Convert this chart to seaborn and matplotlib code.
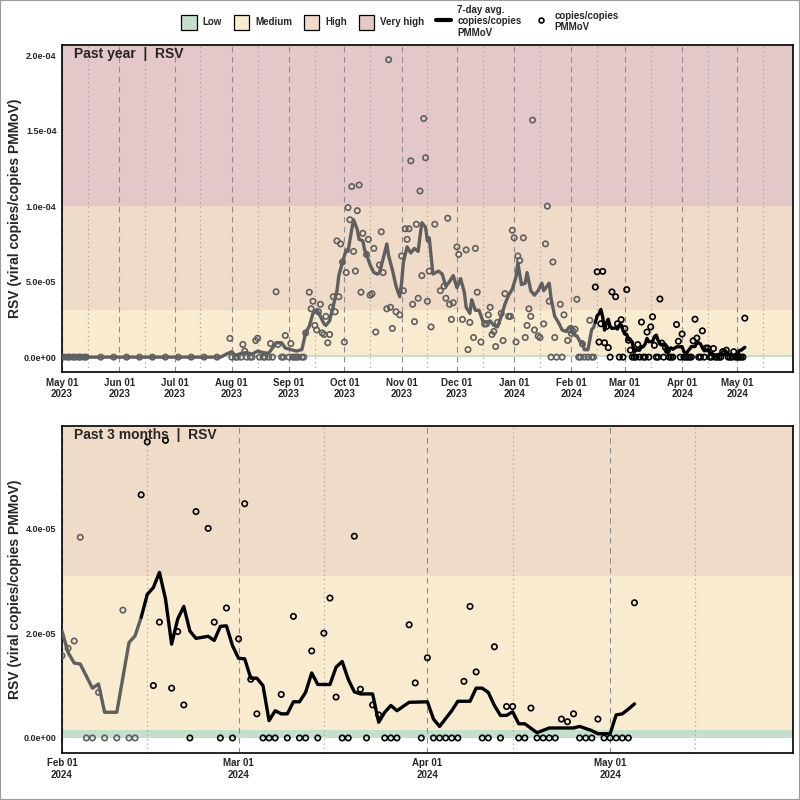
import numpy as np
import pandas as pd
import matplotlib
matplotlib.use("Agg")
import matplotlib.pyplot as plt
import matplotlib.dates as mdates
from matplotlib.patches import Patch, Rectangle
from matplotlib.lines import Line2D
import seaborn as sns

# values are in units of 1e-5 copies/copies PMMoV
UNIT = 1e-5

year_dates = [
    "2023-05-01", "2023-05-02", "2023-05-04", "2023-05-05", "2023-05-07", "2023-05-08",
    "2023-05-10", "2023-05-11", "2023-05-13", "2023-05-14", "2023-05-22", "2023-05-29",
    "2023-06-05", "2023-06-12", "2023-06-19", "2023-06-26", "2023-07-03", "2023-07-10",
    "2023-07-17", "2023-07-24", "2023-07-31", "2023-08-01", "2023-08-03", "2023-08-04",
    "2023-08-06", "2023-08-07", "2023-08-08", "2023-08-09", "2023-08-11", "2023-08-12",
    "2023-08-14", "2023-08-15", "2023-08-16", "2023-08-18", "2023-08-19", "2023-08-21",
    "2023-08-22", "2023-08-23", "2023-08-25", "2023-08-26", "2023-08-28", "2023-08-29",
    "2023-08-30", "2023-09-01", "2023-09-02", "2023-09-03", "2023-09-04", "2023-09-05",
    "2023-09-06", "2023-09-08", "2023-09-09", "2023-09-10", "2023-09-12", "2023-09-13",
    "2023-09-14", "2023-09-15", "2023-09-16", "2023-09-17", "2023-09-18", "2023-09-19",
    "2023-09-20", "2023-09-21", "2023-09-22", "2023-09-23", "2023-09-24", "2023-09-25",
    "2023-09-26", "2023-09-27", "2023-09-28", "2023-09-29", "2023-09-30", "2023-10-01",
    "2023-10-02", "2023-10-03", "2023-10-04", "2023-10-05", "2023-10-06", "2023-10-07",
    "2023-10-08", "2023-10-09", "2023-10-10", "2023-10-11", "2023-10-13", "2023-10-14",
    "2023-10-15", "2023-10-16", "2023-10-17", "2023-10-18", "2023-10-20", "2023-10-21",
    "2023-10-22", "2023-10-24", "2023-10-25", "2023-10-26", "2023-10-27", "2023-10-29",
    "2023-10-31", "2023-11-01", "2023-11-02", "2023-11-03", "2023-11-04", "2023-11-05",
    "2023-11-06", "2023-11-07", "2023-11-08", "2023-11-09", "2023-11-10", "2023-11-11",
    "2023-11-12", "2023-11-13", "2023-11-14", "2023-11-15", "2023-11-16", "2023-11-17",
    "2023-11-19", "2023-11-22", "2023-11-24", "2023-11-25", "2023-11-26", "2023-11-27",
    "2023-11-28", "2023-11-29", "2023-12-01", "2023-12-02", "2023-12-04", "2023-12-06",
    "2023-12-07", "2023-12-08", "2023-12-10", "2023-12-11", "2023-12-12", "2023-12-14",
    "2023-12-16", "2023-12-17", "2023-12-18", "2023-12-19", "2023-12-20", "2023-12-21",
    "2023-12-22", "2023-12-23", "2023-12-25", "2023-12-26", "2023-12-27", "2023-12-29",
    "2023-12-30", "2023-12-31", "2024-01-01", "2024-01-02", "2024-01-03", "2024-01-04",
    "2024-01-06", "2024-01-07", "2024-01-08", "2024-01-09", "2024-01-10", "2024-01-11",
    "2024-01-12", "2024-01-14", "2024-01-15", "2024-01-17", "2024-01-18", "2024-01-19",
    "2024-01-20", "2024-01-21", "2024-01-22", "2024-01-23", "2024-01-24", "2024-01-26",
    "2024-01-27", "2024-01-28", "2024-01-30", "2024-01-31",
]
year_vals = [
    0, 0, 0, 0, 0, 0, 0, 0, 0, 0, 0, 0,
    0, 0, 0, 0, 0, 0, 0, 0, 1.24, 0, 0, 0,
    0, 0.84, 0.4, 0, 0, 0, 1.1, 1.25, 0, 0, 0, 0,
    0.9, 0, 4.33, 0.84, 0, 0, 1.43, 0, 0.9, 0, 0, 0,
    0, 0, 0, 1.6, 4.3, 3.2, 3.7, 2.1, 1.8, 3.0, 3.5, 1.6,
    1.5, 2.7, 0.95, 1.5, 3.3, 4.0, 3.0, 7.7, 4.0, 7.5, 6.3, 1.0,
    5.6, 9.9, 9.1, 11.3, 7.0, 5.7, 9.7, 11.4, 4.3, 8.2, 6.8, 7.8,
    4.1, 4.2, 7.2, 1.66, 6.1, 8.3, 5.6, 3.2, 19.7, 3.3, 1.9, 3.0,
    2.8, 6.7, 4.4, 8.5, 7.8, 8.5, 13.0, 3.5, 2.35, 8.8, 3.9, 11.0,
    5.4, 15.8, 13.2, 3.7, 5.7, 2.0, 8.8, 4.4, 4.7, 3.9, 9.2, 3.5,
    2.5, 3.6, 7.3, 6.8, 2.5, 7.1, 0.5, 2.3, 1.3, 7.2, 4.3, 1.0,
    2.2, 2.2, 2.8, 3.3, 1.5, 1.7, 0.7, 2.3, 2.9, 1.1, 4.2, 2.7,
    2.7, 8.4, 7.9, 1.0, 6.7, 6.4, 7.9, 1.3, 2.1, 3.2, 2.7, 15.7,
    1.8, 1.4, 1.3, 2.2, 7.5, 10.0, 3.7, 0, 6.3, 1.3, 0, 3.5,
    0, 2.8, 1.1, 1.8,
]

recent_dates = [
    "2024-02-01", "2024-02-02", "2024-02-03", "2024-02-04", "2024-02-05", "2024-02-06",
    "2024-02-07", "2024-02-08", "2024-02-10", "2024-02-11", "2024-02-12", "2024-02-13",
    "2024-02-14", "2024-02-15", "2024-02-16", "2024-02-17", "2024-02-18", "2024-02-19",
    "2024-02-20", "2024-02-21", "2024-02-22", "2024-02-23", "2024-02-25", "2024-02-26",
    "2024-02-27", "2024-02-28", "2024-02-29",
    "2024-03-01", "2024-03-02", "2024-03-03", "2024-03-04", "2024-03-05", "2024-03-06",
    "2024-03-07", "2024-03-08", "2024-03-09", "2024-03-10", "2024-03-11", "2024-03-12",
    "2024-03-13", "2024-03-14", "2024-03-15", "2024-03-16", "2024-03-17", "2024-03-18",
    "2024-03-19", "2024-03-20", "2024-03-21", "2024-03-22", "2024-03-23", "2024-03-24",
    "2024-03-25", "2024-03-26", "2024-03-27", "2024-03-29", "2024-03-30", "2024-03-31",
    "2024-04-01", "2024-04-02", "2024-04-03", "2024-04-04", "2024-04-05", "2024-04-06",
    "2024-04-07", "2024-04-08", "2024-04-09", "2024-04-10", "2024-04-11", "2024-04-12",
    "2024-04-13", "2024-04-14", "2024-04-15", "2024-04-16", "2024-04-17", "2024-04-18",
    "2024-04-19", "2024-04-20", "2024-04-21", "2024-04-22", "2024-04-23", "2024-04-24",
    "2024-04-25", "2024-04-26", "2024-04-27", "2024-04-28", "2024-04-29", "2024-04-30",
    "2024-05-01", "2024-05-02", "2024-05-03", "2024-05-04", "2024-05-05",
]
recent_vals = [
    1.57, 1.71, 1.85, 3.83, 0, 0, 0.87, 0, 0, 2.44, 0, 0,
    4.64, 5.65, 1.0, 2.21, 5.68, 0.95, 2.03, 0.63, 0, 4.32, 4.0, 2.21,
    0, 2.48, 0,
    1.89, 4.47, 1.12, 0.46, 0, 0, 0, 0.83, 0, 2.32, 0, 0,
    1.66, 0, 2.0, 2.67, 0.78, 0, 0, 3.85, 0.93, 0, 0.63, 0.44,
    0, 0, 0, 2.16, 1.05, 0,
    1.53, 0, 0, 0, 0, 0, 1.08, 2.51, 1.26, 0, 0, 1.74,
    0, 0.6, 0.6, 0, 0, 0.57, 0, 0, 0, 0, 0.36, 0.31,
    0.46, 0, 0, 0, 0.36, 0,
    0, 0, 0, 0, 2.58,
]

# 7-day average line
line_dates = [
    "2023-05-01", "2023-07-26", "2023-07-29", "2023-08-01", "2023-08-03", "2023-08-06",
    "2023-08-09", "2023-08-12", "2023-08-15", "2023-08-18", "2023-08-21", "2023-08-23",
    "2023-08-25", "2023-08-28", "2023-08-30", "2023-09-02", "2023-09-05", "2023-09-08",
    "2023-09-10", "2023-09-12", "2023-09-14", "2023-09-16", "2023-09-18", "2023-09-20",
    "2023-09-21", "2023-09-23", "2023-09-25", "2023-09-27", "2023-09-28", "2023-09-30",
    "2023-10-02", "2023-10-03", "2023-10-05", "2023-10-06", "2023-10-08", "2023-10-09",
    "2023-10-11", "2023-10-12", "2023-10-13", "2023-10-15", "2023-10-17", "2023-10-19",
    "2023-10-20", "2023-10-22", "2023-10-24", "2023-10-25", "2023-10-27", "2023-10-29",
    "2023-10-31", "2023-11-01", "2023-11-02", "2023-11-04", "2023-11-06", "2023-11-08",
    "2023-11-10", "2023-11-11", "2023-11-12", "2023-11-14", "2023-11-15", "2023-11-16",
    "2023-11-18", "2023-11-21", "2023-11-23", "2023-11-25", "2023-11-27", "2023-11-29",
    "2023-12-01", "2023-12-03", "2023-12-05", "2023-12-06", "2023-12-08", "2023-12-09",
    "2023-12-11", "2023-12-13", "2023-12-15", "2023-12-17", "2023-12-19", "2023-12-21",
    "2023-12-23", "2023-12-25", "2023-12-27", "2023-12-29", "2023-12-31", "2024-01-02",
    "2024-01-03", "2024-01-05", "2024-01-07", "2024-01-08", "2024-01-10", "2024-01-12",
    "2024-01-14", "2024-01-16", "2024-01-17", "2024-01-20", "2024-01-21", "2024-01-23",
    "2024-01-25", "2024-01-27", "2024-01-29", "2024-01-31",
    "2024-02-01", "2024-02-02", "2024-02-03", "2024-02-04", "2024-02-06", "2024-02-07",
    "2024-02-08", "2024-02-10", "2024-02-12", "2024-02-13", "2024-02-14", "2024-02-15",
    "2024-02-16", "2024-02-17", "2024-02-18", "2024-02-19", "2024-02-20", "2024-02-21",
    "2024-02-22", "2024-02-23", "2024-02-25", "2024-02-26", "2024-02-27", "2024-02-28",
    "2024-02-29", "2024-03-01", "2024-03-02", "2024-03-03", "2024-03-04", "2024-03-05",
    "2024-03-06", "2024-03-07", "2024-03-08", "2024-03-09", "2024-03-10", "2024-03-11",
    "2024-03-12", "2024-03-13", "2024-03-14", "2024-03-16", "2024-03-17", "2024-03-18",
    "2024-03-19", "2024-03-20", "2024-03-21", "2024-03-23", "2024-03-24", "2024-03-25",
    "2024-03-26", "2024-03-27", "2024-03-29", "2024-04-01", "2024-04-02", "2024-04-03",
    "2024-04-05", "2024-04-06", "2024-04-08", "2024-04-09", "2024-04-10", "2024-04-11",
    "2024-04-12", "2024-04-13", "2024-04-14", "2024-04-15", "2024-04-16", "2024-04-17",
    "2024-04-19", "2024-04-21", "2024-04-25", "2024-04-26", "2024-04-28", "2024-04-29",
    "2024-05-01", "2024-05-02", "2024-05-03", "2024-05-04", "2024-05-05",
]
line_vals = [
    0, 0, 0.2, 0.36, 0.1, 0.25,
    0.3, 0.2, 0.4, 0.3, 0.25, 0.6,
    0.95, 0.95, 0.6, 0.5, 0.4, 0.5,
    1.6, 2.05, 2.9, 3.15, 2.7, 2.2,
    2.1, 2.4, 3.4, 4.4, 5.4, 6.3,
    7.1, 7.0, 8.45, 9.1, 8.45, 7.8,
    7.7, 7.1, 6.8, 6.1, 5.6, 5.5,
    5.6, 6.5, 7.5, 6.7, 5.8, 4.7,
    4.0, 4.9, 6.3, 7.3, 6.9, 7.2,
    7.0, 8.0, 8.9, 8.6, 7.7, 7.9,
    5.5, 5.7, 5.5, 4.7, 5.0, 5.4,
    4.6, 5.2, 4.3, 3.3, 2.9, 3.8,
    3.1, 3.1, 2.4, 2.3, 2.4, 2.1,
    2.0, 2.7, 3.5, 4.1, 4.5, 5.3,
    6.25, 4.8, 4.9, 5.6, 4.4, 4.1,
    4.4, 4.9, 4.4, 4.9, 3.9, 2.7,
    2.3, 1.8, 1.7, 2.0,
    2.04, 1.63, 1.43, 1.41, 0.95, 1.03,
    0.49, 0.49, 1.82, 1.95, 2.3, 2.74,
    2.87, 3.16, 2.65, 1.79, 2.27, 2.51,
    2.04, 1.9, 1.94, 1.86, 2.13, 2.14,
    1.76, 1.52, 1.51, 1.14, 1.14, 1.0,
    0.33, 0.52, 0.46, 0.46, 0.69, 0.69,
    0.87, 1.24, 1.02, 1.02, 1.35, 1.46,
    1.12, 0.88, 0.84, 0.84, 0.30, 0.49,
    0.62, 0.52, 0.68, 0.69, 0.36, 0.22,
    0.52, 0.7, 0.7, 0.95, 0.95, 0.87,
    0.62, 0.43, 0.43, 0.5, 0.27, 0.27,
    0.1, 0.19, 0.19, 0.22, 0.14, 0.08,
    0.08, 0.44, 0.46, 0.55, 0.65,
]

band_names = ["Low", "Medium", "High", "Very high"]
band_lo = [0, 0.16, 3.1, 10.0]
band_hi = [0.16, 3.1, 10.0, 100.0]
band_colors = ["#c4dfcc", "#f8ebcf", "#f0dbc9", "#e4c7c9"]

cutoff = pd.Timestamp("2024-02-14")
grey = "#5f5f5f"

points = pd.DataFrame({
    "date": pd.to_datetime(year_dates + recent_dates),
    "value": np.array(year_vals + recent_vals) * UNIT,
})
avg = pd.DataFrame({
    "date": pd.to_datetime(line_dates),
    "value": np.array(line_vals) * UNIT,
})

sns.set_style("white")
plt.rcParams["font.family"] = ["Liberation Sans", "DejaVu Sans"]

fig = plt.figure(figsize=(8, 8), dpi=100)
ax_top = fig.add_axes([0.0775, 0.535, 0.9135, 0.409])
ax_bot = fig.add_axes([0.0775, 0.059, 0.9135, 0.4085])


def draw_panel(ax, start, end, ymax, yticks, title):
    start, end = pd.Timestamp(start), pd.Timestamp(end)
    for lo, hi, c in zip(band_lo, band_hi, band_colors):
        ax.axhspan(lo * UNIT, hi * UNIT, color=c, lw=0, zorder=0)
    for d in pd.date_range(start, end, freq="MS"):
        ax.axvline(d, color="#8c8c8c", lw=0.8, ls=(0, (5, 4)), zorder=1)
    for d in pd.date_range(start - pd.Timedelta(days=31), end, freq="MS") + pd.Timedelta(days=14):
        if start < d < end:
            ax.axvline(d, color="#9a9a9a", lw=0.8, ls=(0, (1, 3)), zorder=1)

    pts = points[points["date"] >= start]
    line = avg[avg["date"] >= start]
    sns.lineplot(data=line[line["date"] <= cutoff], x="date", y="value",
                 color=grey, lw=2.4, ax=ax, zorder=3)
    sns.lineplot(data=line[line["date"] >= cutoff], x="date", y="value",
                 color="black", lw=2.4, ax=ax, zorder=3)
    sns.scatterplot(data=pts[pts["date"] < cutoff], x="date", y="value",
                    facecolor="none", edgecolor=grey, s=15, linewidth=1.2, ax=ax, zorder=4)
    sns.scatterplot(data=pts[pts["date"] >= cutoff], x="date", y="value",
                    facecolor="none", edgecolor="black", s=15, linewidth=1.2, ax=ax, zorder=4)

    ax.set_xlim(start, end)
    ax.set_ylim(-0.05 * ymax, ymax * 1.05)
    ax.set_yticks(yticks)
    ax.set_yticklabels(["%.1e" % t for t in yticks])
    ax.xaxis.set_major_locator(mdates.MonthLocator())
    ax.xaxis.set_major_formatter(mdates.DateFormatter("%b %d\n%Y"))
    ax.tick_params(axis="both", length=0)
    ax.tick_params(axis="y", labelsize=6.5, pad=4)
    ax.tick_params(axis="x", labelsize=7, pad=4)
    for lab in ax.get_xticklabels() + ax.get_yticklabels():
        lab.set_fontweight("bold")
    ax.set_xlabel("")
    ax.set_ylabel("RSV (viral copies/copies PMMoV)", fontsize=10, fontweight="bold")
    ax.yaxis.set_label_coords(-0.055, 0.5)
    for sp in ax.spines.values():
        sp.set_color("black")
        sp.set_linewidth(1.2)
    ax.text(0.016, 0.993, title, transform=ax.transAxes, ha="left", va="top",
            fontsize=10, fontweight="bold", zorder=5)


draw_panel(ax_top, "2023-05-01", "2024-05-31", 1.97e-4,
           [0, 5e-5, 1e-4, 1.5e-4, 2e-4], "Past year  |  RSV")
draw_panel(ax_bot, "2024-02-01", "2024-05-31", 5.67e-5,
           [0, 2e-5, 4e-5], "Past 3 months  |  RSV")

handles = [Patch(facecolor=c, edgecolor="black", lw=0.9) for c in band_colors]
handles.append(Line2D([], [], color="black", lw=3))
handles.append(Line2D([], [], ls="none", marker="o", mfc="none", mec="black", ms=3.5, mew=1.2))
labels = band_names + ["7-day avg.\ncopies/copies\nPMMoV", "copies/copies\nPMMoV"]
fig.legend(handles, labels, loc="upper center", bbox_to_anchor=(0.5, 1.005), ncol=6,
           frameon=False, prop={"weight": "bold", "size": 7}, handlelength=1.6,
           handleheight=2.0, columnspacing=1.2, handletextpad=0.6)

fig.patches.append(Rectangle((0, 0), 1, 1, transform=fig.transFigure, fill=False,
                             edgecolor="#9a9a9a", lw=1.5))

fig.savefig("out.png", dpi=100)
